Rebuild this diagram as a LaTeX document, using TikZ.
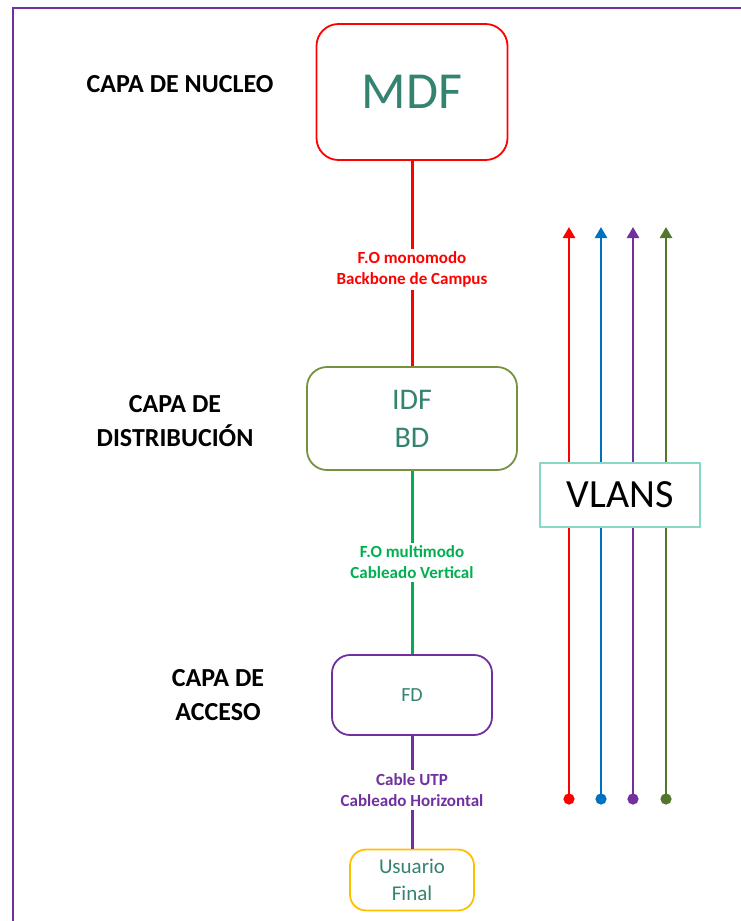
\documentclass[tikz,border=0pt]{standalone}
\usepackage{fontspec}
\setmainfont{Carlito}
\usetikzlibrary{arrows.meta}

\definecolor{rojo}{RGB}{255,0,0}
\definecolor{azul}{RGB}{0,112,192}
\definecolor{morado}{RGB}{112,48,160}
\definecolor{oliva}{RGB}{84,118,44}
\definecolor{olivaclaro}{RGB}{118,146,60}
\definecolor{verde}{RGB}{0,176,80}
\definecolor{amarillo}{RGB}{255,192,0}
\definecolor{turquesa}{RGB}{137,215,196}
\definecolor{textoequipo}{RGB}{52,131,112}

\begin{document}
\begin{tikzpicture}[x=1pt, y=-1pt, very thick]
	\tikzstyle{capa}   = [font=\bfseries\fontsize{26}{34}\selectfont, align=center, text=black]
	\tikzstyle{equipo} = [rectangle, rounded corners=18pt, line width=1.8pt, fill=white, text=textoequipo, align=center, inner sep=0pt]
	\tikzstyle{cable}  = [line width=3pt]
	\tikzstyle{rotulo} = [fill=white, font=\bfseries\fontsize{17}{21}\selectfont, align=center, inner sep=3pt]
	\tikzstyle{vlan}   = [line width=2.6pt, {Circle[length=11pt]}-{Triangle[length=11pt, width=12pt]}]

	\useasboundingbox (0,0) rectangle (741,921);
	\draw[morado, line width=2pt] (13,921) -- (13,8) -- (741,8);

	% capas
	\node[capa] (nucleo) at (180,84) {CAPA DE NUCLEO};
	\node[capa] (distrib) at (175,421) {CAPA DE\\DISTRIBUCIÓN};
	\node[capa] (acceso) at (218,695) {CAPA DE\\ACCESO};

	% equipos
	\node[equipo, draw=rojo, minimum width=191pt, minimum height=136pt, rounded corners=22pt, font=\fontsize{52}{60}\selectfont] (mdf) at (412,92) {MDF};
	\node[equipo, draw=olivaclaro, minimum width=210pt, minimum height=103pt, rounded corners=20pt, font=\fontsize{30}{38}\selectfont] (idf) at (412,418.5) {IDF\\BD};
	\node[equipo, draw=morado, minimum width=160pt, minimum height=80pt, font=\fontsize{20}{26}\selectfont] (fd) at (412,695) {FD};
	\node[equipo, draw=amarillo, minimum width=124pt, minimum height=61pt, rounded corners=16pt, font=\fontsize{21}{27}\selectfont] (usuario) at (412,880) {Usuario\\Final};

	% cableado
	\draw[cable, rojo] (mdf) -- node[rotulo, text=rojo, pos=0.53] {F.O monomodo\\Backbone de Campus} (idf);
	\draw[cable, verde] (idf) -- node[rotulo, text=verde, pos=0.5] {F.O multimodo\\Cableado Vertical} (fd);
	\draw[cable, morado] (fd) -- node[rotulo, text=morado, pos=0.48] {Cable UTP\\Cableado Horizontal} (usuario);

	% vlans
	\foreach \n/\x/\col in {1/569/rojo, 2/601/azul, 3/633/morado, 4/666/oliva}{
		\coordinate (b\n) at (\x,804.5);
		\coordinate (t\n) at (\x,227);
		\draw[vlan, \col] (b\n) -- (t\n);
	}
	\node[rectangle, draw=turquesa, line width=1.8pt, fill=white, minimum width=160pt, minimum height=64pt, font=\fontsize{40}{48}\selectfont] (vlans) at (620,495) {VLANS};

\end{tikzpicture}
\end{document}
